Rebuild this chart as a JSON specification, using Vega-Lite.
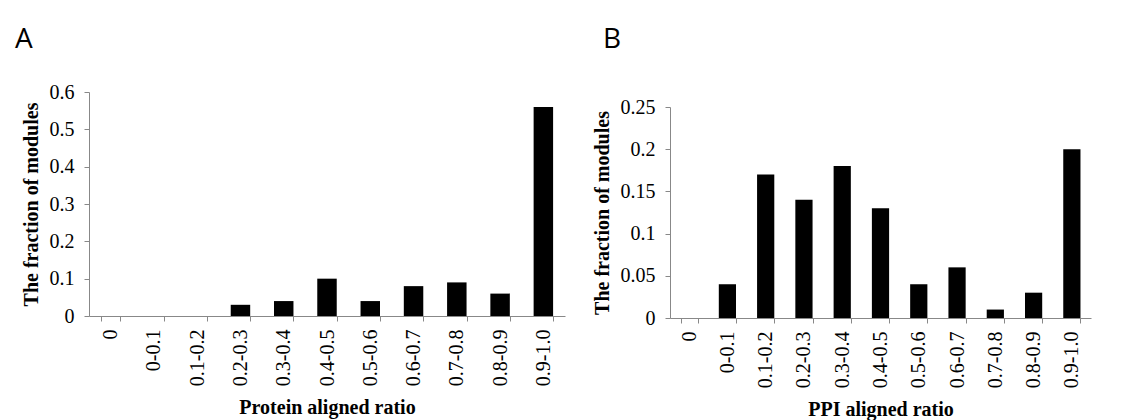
{
  "$schema": "https://vega.github.io/schema/vega-lite/v6.json",
  "padding": {"left": 15, "top": 26, "right": 2, "bottom": 0},
  "background": "white",
  "config": {
    "view": {"stroke": null},
    "font": "Liberation Serif",
    "axis": {"domainColor": "#888888", "tickColor": "#888888", "labelFont": "Liberation Serif", "labelFontSize": 20, "labelColor": "#000000", "titleFont": "Liberation Serif", "titleFontSize": 20, "titleFontWeight": "bold", "titleColor": "#000000", "grid": false, "tickSize": 5},
    "axisX": {"labelPadding": 8, "titlePadding": 12},
    "axisY": {"labelPadding": 10, "titlePadding": 8},
    "title": {"font": "Open Sans", "fontSize": 28, "fontWeight": "normal", "anchor": "start", "color": "#000000"},
    "concat": {"spacing": 27}
  },
  "datasets": {
    "a": [
      {"ratio": "0", "fraction": 0},
      {"ratio": "0-0.1", "fraction": 0},
      {"ratio": "0.1-0.2", "fraction": 0},
      {"ratio": "0.2-0.3", "fraction": 0.03},
      {"ratio": "0.3-0.4", "fraction": 0.04},
      {"ratio": "0.4-0.5", "fraction": 0.10},
      {"ratio": "0.5-0.6", "fraction": 0.04},
      {"ratio": "0.6-0.7", "fraction": 0.08},
      {"ratio": "0.7-0.8", "fraction": 0.09},
      {"ratio": "0.8-0.9", "fraction": 0.06},
      {"ratio": "0.9-1.0", "fraction": 0.56}
    ],
    "b": [
      {"ratio": "0", "fraction": 0},
      {"ratio": "0-0.1", "fraction": 0.04},
      {"ratio": "0.1-0.2", "fraction": 0.17},
      {"ratio": "0.2-0.3", "fraction": 0.14},
      {"ratio": "0.3-0.4", "fraction": 0.18},
      {"ratio": "0.4-0.5", "fraction": 0.13},
      {"ratio": "0.5-0.6", "fraction": 0.04},
      {"ratio": "0.6-0.7", "fraction": 0.06},
      {"ratio": "0.7-0.8", "fraction": 0.01},
      {"ratio": "0.8-0.9", "fraction": 0.03},
      {"ratio": "0.9-1.0", "fraction": 0.20}
    ]
  },
  "hconcat": [
    {
      "title": {"text": "A", "offset": 28, "dx": -6},
      "data": {"name": "a"},
      "width": 476,
      "height": 224,
      "mark": {"type": "bar", "color": "#000000"},
      "encoding": {
        "x": {"field": "ratio", "type": "nominal", "sort": null, "scale": {"paddingInner": 0.55, "paddingOuter": 0.275}, "axis": {"title": "Protein aligned ratio", "labelAngle": -90, "tickBand": "extent"}},
        "y": {"field": "fraction", "type": "quantitative", "scale": {"domain": [0, 0.6]}, "axis": {"title": "The fraction of modules", "values": [0, 0.1, 0.2, 0.3, 0.4, 0.5, 0.6], "format": "~g"}}
      }
    },
    {
      "title": {"text": "B", "offset": 38, "dx": 11},
      "spacing": 4,
      "vconcat": [
        {
          "data": {"values": []},
          "width": 421,
          "height": 1,
          "mark": {"type": "point", "opacity": 0},
          "encoding": {}
        },
        {
          "data": {"name": "b"},
          "width": 421,
          "height": 211,
          "mark": {"type": "bar", "color": "#000000"},
          "encoding": {
            "x": {"field": "ratio", "type": "nominal", "sort": null, "scale": {"paddingInner": 0.55, "paddingOuter": 0.275}, "axis": {"title": "PPI aligned ratio", "labelAngle": -90, "tickBand": "extent"}},
            "y": {"field": "fraction", "type": "quantitative", "scale": {"domain": [0, 0.25]}, "axis": {"title": "The fraction of modules", "values": [0, 0.05, 0.1, 0.15, 0.2, 0.25], "format": "~g"}}
          }
        }
      ]
    }
  ]
}
